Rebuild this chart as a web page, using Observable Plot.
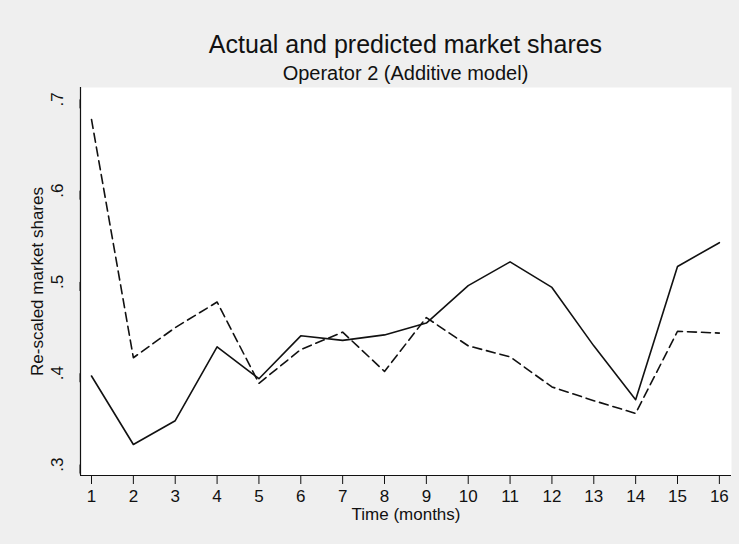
<!DOCTYPE html>
<html>
<head>
<meta charset="utf-8">
<script src="https://cdn.jsdelivr.net/npm/d3@7"></script>
<script src="https://cdn.jsdelivr.net/npm/@observablehq/plot@0.6"></script>
<style>
  html, body { margin: 0; padding: 0; background: #efefef; }
  #wrap { width: 739px; height: 544px; background: #efefef; font-family: "Liberation Sans", Arial, sans-serif; position: relative; overflow: hidden; }
  #titles { height: 80px; padding-left: 80px; padding-right: 8px; box-sizing: border-box; text-align: center; color: #111; }
  #title { font-size: 25px; padding-top: 30px; line-height: 28px; }
  #subtitle { font-size: 20px; line-height: 22px; margin-top: 4px; }
  svg { display: block; }
</style>
</head>
<body>
<div id="wrap">
  <div id="titles">
    <div id="title">Actual and predicted market shares</div>
    <div id="subtitle">Operator 2 (Additive model)</div>
  </div>
  <div id="chart"></div>
</div>
<script>
const months = [1, 2, 3, 4, 5, 6, 7, 8, 9, 10, 11, 12, 13, 14, 15, 16];
const actual = [0.397, 0.322, 0.348, 0.429, 0.394, 0.441, 0.436, 0.442, 0.455, 0.496, 0.522, 0.494, 0.430, 0.371, 0.517, 0.543];
const predicted = [0.678, 0.417, 0.450, 0.478, 0.389, 0.426, 0.445, 0.402, 0.461, 0.430, 0.418, 0.385, 0.370, 0.356, 0.446, 0.444];
const yTicks = [0.3, 0.4, 0.5, 0.6, 0.7];
const yTickLabels = [".3", ".4", ".5", ".6", ".7"];

const actualData = months.map((m, i) => ({month: m, value: actual[i]}));
const predData = months.map((m, i) => ({month: m, value: predicted[i]}));

const chart = Plot.plot({
  width: 739,
  height: 464,
  marginTop: 7,
  marginBottom: 69,
  marginLeft: 80,
  marginRight: 8,
  style: {background: "transparent", fontFamily: "Liberation Sans, Arial, sans-serif", fontSize: "16px", color: "#111"},
  x: {domain: [0.737, 16.29]},
  y: {domain: [0.288, 0.713]},
  marks: [
    Plot.frame({fill: "white", stroke: null}),
    Plot.axisX({ticks: months, tickSize: 9, tickPadding: 5, tickFormat: d => String(d), fontSize: 17,
      label: "Time (months)", labelAnchor: "center", labelArrow: "none", labelOffset: 44}),
    Plot.axisY({ticks: yTicks, tickSize: 9, tickPadding: 14, tickFormat: d => yTickLabels[yTicks.indexOf(d)],
      rotate: -90, textAnchor: "middle", fontSize: 17,
      label: "Re-scaled market shares", labelAnchor: "center", labelArrow: "none", labelOffset: 50}),
    Plot.ruleX([0.737], {stroke: "#111", strokeWidth: 1.2}),
    Plot.ruleY([0.288], {stroke: "#111", strokeWidth: 1.2}),
    Plot.line(predData, {x: "month", y: "value", stroke: "#111", strokeWidth: 1.6, strokeDasharray: "9,5"}),
    Plot.line(actualData, {x: "month", y: "value", stroke: "#111", strokeWidth: 1.6})
  ]
});
document.getElementById("chart").appendChild(chart);
</script>
</body>
</html>
